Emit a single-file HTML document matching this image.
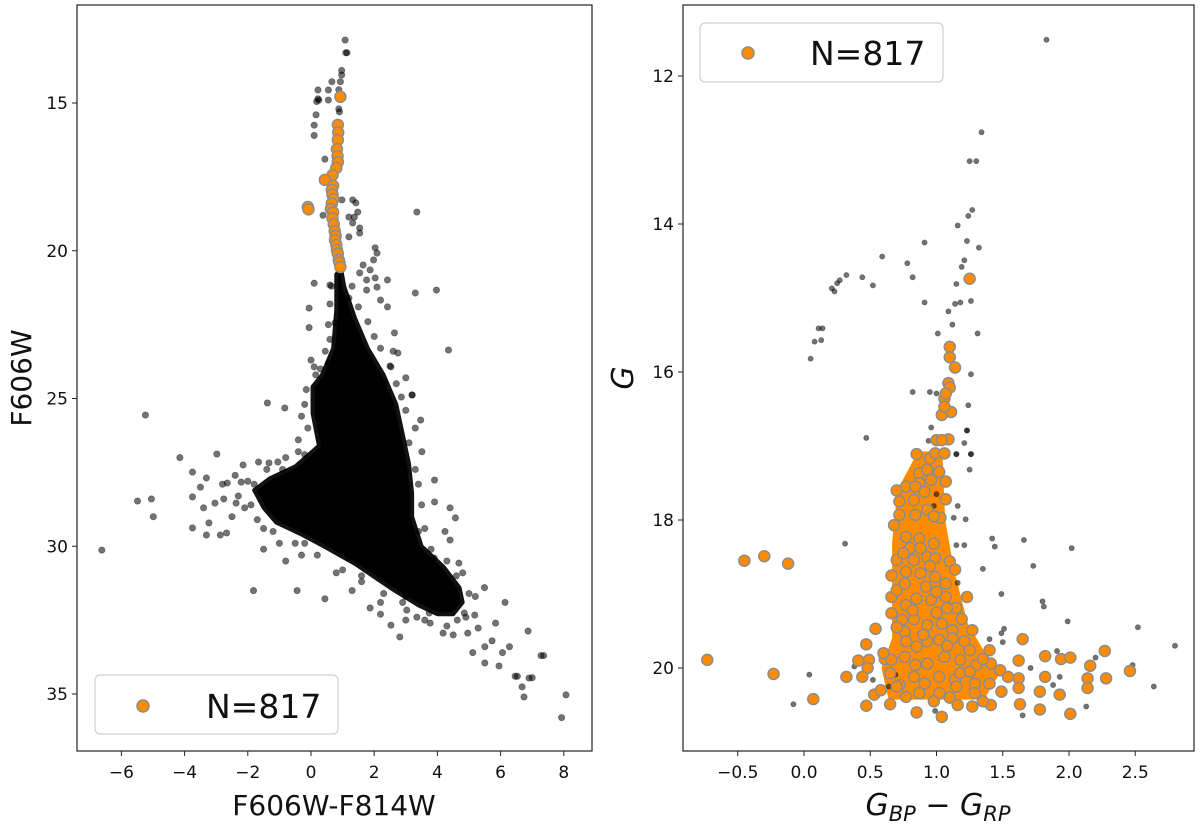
<!DOCTYPE html>
<html><head><meta charset="utf-8"><style>
html,body{margin:0;padding:0;background:#fff;}
svg{display:block;font-family:"DejaVu Sans","Liberation Sans",sans-serif;}
</style></head><body>
<svg id="fig" width="1200" height="828" viewBox="0 0 1200 828" xmlns="http://www.w3.org/2000/svg">
<g id="left"></g>
<g id="right"></g>
</svg>
<script>
const NS="http://www.w3.org/2000/svg";
// ---------- LEFT PANEL DATA ----------
const leftXTicks=[-6,-4,-2,0,2,4,6,8];
const leftYTicks=[15,20,25,30,35];
const leftDenseOutline=[[0.8,20.8],[0.8,22],[0.7,23.3],[0.35,24.2],[0.05,24.6],[0.05,25.5],[0.25,26.6],[-0.5,27.3],[-1.3,27.7],[-1.8,28.1],[-1.5,28.7],[-1.1,29.2],[-0.3,29.6],[0.4,30.0],[1.4,30.6],[2.5,31.4],[3.4,32.0],[4.0,32.3],[4.5,32.3],[4.8,31.9],[4.7,31.4],[4.2,30.7],[3.5,30.0],[3.2,29.0],[3.2,28.2],[3.1,27.2],[2.9,26.2],[2.7,25.2],[2.3,24.2],[1.8,23.3],[1.4,22.3],[1.05,21.2],[0.95,20.6]];
const leftBlack=[[1.08,12.87],[1.1,13.3],[1.14,13.3],[0.97,13.9],[0.97,14.05],[0.66,14.28],[0.93,14.28],[0.22,14.56],[0.55,14.56],[0.88,14.55],[0.22,14.86],[0.25,14.9],[0.18,14.95],[0.55,14.9],[0.88,15.2],[0.9,15.3],[0.16,15.4],[0.1,15.75],[0.1,16.1],[0.44,16.9],[0.38,18.8],
[0.98,18.28],[1.32,18.28],[1.42,18.38],[1.48,18.69],[1.37,18.86],[1.2,18.86],[1.32,19.06],[1.54,19.23],[1.54,19.4],[1.2,19.53],
[2.03,19.9],[2.09,20.08],[1.98,20.31],[1.65,20.48],[1.87,20.65],[1.54,20.75],[1.76,20.99],[2.03,20.92],[2.42,20.99],[2.09,21.23],[1.76,21.33],
[0.1,21.1],[0.6,21.16],[3.35,18.69],[3.3,21.43],[3.97,21.33],[4.35,23.36],[-0.06,21.94],[-0.06,22.6],
[2.2,21.67],[2.42,21.9],[2.64,22.78],[2.75,23.46],[2.53,23.93],[2.31,24.47],[2.86,24.95],[3.2,24.88],[0.76,22.44],[0.6,23.0],[0.55,23.8],[0,23.7],[0.1,23.93],
[-5.24,25.56],[-1.38,25.15],[-0.83,25.32],[3.47,25.73],[3.2,24.88],[3.51,26.8],[-4.15,27.0],[-2.98,26.88],
[-3.75,27.49],[-3.31,27.69],[-2.65,27.86],[-2.21,27.83],[-2.15,27.25],[-1.66,27.15],[-1.33,27.18],[-1.05,27.15],
[-5.49,28.47],[-5.05,28.4],[-4.99,29.0],[-3.75,28.33],[-3.75,29.38],[-3.31,29.62],[-3.23,29.21],[-3.04,28.54],[-2.76,28.4],[-2.87,29.62],[-2.67,29.55],[-2.37,28.54],
[-6.62,30.13],[-1.82,31.5],[-0.44,31.5],[0.44,31.78],[1.87,32.09],[2.53,32.67],[2.81,33.07],
[3.91,27.76],[3.91,28.5],[4.4,28.7],[4.57,29.04],[4.24,29.5],[4.4,29.79],
[4.68,30.57],[5.49,31.4],[6.14,31.9],[6.87,32.87],[7.36,33.7],
[4.96,32.94],[5.12,33.6],[5.5,33.95],[5.95,34.05],[6.53,34.4],[7.0,34.45],[5.73,33.2],[6.06,33.6],[6.28,33.4],[5.5,33.4],[5.84,32.6],[5.29,32.77],
[4.18,32.94],[3.77,32.6],[3.35,32.4],[3.03,32.16],[3.74,32.26],[4.63,32.5],[4.85,32.26],[5.18,32.33],
[8.07,35.03],[7.93,35.8],[6.46,34.4],[6.9,34.46],[6.68,34.76],[6.74,35.1],[7.28,33.7],
[-1.9,28.6],[-1.5,29.4],[-1.0,29.9],[-0.3,30.3],[0.8,30.9],[1.6,31.2],[2.2,31.9],[3.0,31.7],[-2.4,27.6],[-1.8,27.9],[-0.8,27.0],[-0.4,26.4],[3.4,27.9],[3.6,29.4],[3.9,30.4],[4.6,31.0],[5.2,31.7],[3.3,26.0],[3.0,24.3],[2.6,23.4],
[1.2,21.6],[1.5,21.9],[1.8,22.4],[2.0,22.9],[2.2,23.3],[2.5,23.9],[2.7,24.5],[3.0,25.4],[3.1,26.5],[3.3,27.4],[3.5,28.6],[3.4,29.5],[3.8,30.1],[4.3,30.5],[4.8,30.9],[5.0,31.6],[4.9,32.4],[4.3,32.7],[3.6,32.5],[2.9,31.9],[2.3,31.6],[1.6,31.0],[1.0,30.8],[0.2,30.3],[-0.5,29.9],[-1.2,29.5],[-1.7,29.1],[-2.1,28.7],[-2.3,28.3],[-2.0,27.8],[-1.4,27.4],[-0.9,27.4],[-0.2,26.9],[-0.1,26.0],[-0.2,25.2],[-0.15,24.7],[0.15,24.2],[0.45,23.4],[0.55,22.5],[0.6,21.8],[0.65,21.2],[1.3,21.2],[0.3,24.0],[-0.3,25.6],[-0.4,26.8],[-1.0,28.8],[-0.2,29.9],[1.2,30.4],[2.0,30.5],[2.7,30.8],[3.2,31.1],[3.8,31.4],[4.0,31.8],[4.5,33.0],[3.0,32.5],[2.2,32.3],[1.3,31.5],[-0.8,30.5],[-1.5,30.1],[-2.5,29.0],[-2.8,27.9],[-3.4,28.7],[-3.5,28.0]];
const leftOrange=[[0.93,14.79],[0.85,15.74],[0.86,16.0],[0.85,16.25],[0.82,16.56],[0.84,16.8],[0.85,17.0],[0.8,17.2],[0.68,17.44],[0.44,17.6],[0.7,17.8],[0.66,17.94],[0.68,18.1],[0.71,18.25],[0.66,18.4],[0.63,18.59],[0.7,18.7],[0.68,18.9],[0.72,19.1],[0.75,19.33],[0.78,19.5],[0.76,19.64],[0.8,19.8],[0.82,19.97],[0.85,20.1],[0.88,20.31],[0.9,20.4],[0.93,20.55],[-0.1,18.52],[-0.08,18.6]];

// ---------- RIGHT PANEL DATA ----------
const rightXTicks=[-0.5,0.0,0.5,1.0,1.5,2.0,2.5];
const rightYTicks=[12,14,16,18,20];
const rightCoreOutline=[[0.87,17.1],[0.72,17.6],[0.68,18.3],[0.68,19.6],[0.6,20.0],[0.65,20.4],[1.35,20.4],[1.45,20.1],[1.35,19.8],[1.22,19.4],[1.12,18.7],[1.05,18.0],[1.03,17.1]];
const rightBlack=[[1.83,11.51],[1.34,12.76],[1.25,13.15],[1.30,13.15],[1.27,13.81],[1.24,13.89],[1.16,14.02],[1.23,14.23],[1.32,14.32],[0.91,14.25],[0.59,14.44],[0.78,14.53],[1.21,14.49],[1.19,14.58],[0.32,14.69],[0.27,14.76],[0.25,14.8],[0.21,14.87],[0.23,14.91],[0.44,14.72],[0.52,14.83],[0.82,14.72],[1.15,14.81],[0.91,15.06],[1.14,15.08],[1.18,15.06],[1.26,15.04],[1.09,15.18],[1.12,15.36],[1.01,15.48],[1.31,15.48],[0.11,15.41],[0.14,15.41],[0.08,15.59],[0.13,15.57],[0.05,15.82],[1.26,16.03],[1.24,16.45],[1.23,16.79],[1.21,16.96],[1.26,17.11],[1.15,17.11],[0.82,16.27],[0.95,16.27],[1.0,16.29],[0.96,16.75],[0.94,16.93],[0.47,16.89],
[1.23,16.79],[1.15,17.11],[1.26,17.11],[1.25,17.32],[1.16,17.81],[1.13,17.97],[1.22,17.99],[1.0,17.65],[0.98,17.81],[0.31,18.32],[1.15,18.34],[1.21,18.34],[1.42,18.25],[1.44,18.36],[1.66,18.27],[2.02,18.38],[1.73,18.62],[1.35,18.66],[1.16,18.85],[1.49,19.0],[1.8,19.1],[1.81,19.17],[1.99,19.37],[2.52,19.45],[1.51,19.47],[1.49,19.53],[1.4,19.61],[1.5,19.65],[1.91,19.77],[2.2,19.86],[2.48,19.96],[2.8,19.7],[1.71,20.0],[1.93,20.12],[1.88,20.23],[2.64,20.25],[2.13,20.52],[1.65,20.64],[0.99,20.58],[0.52,20.16],[0.64,20.25],[0.69,20.09],[0.04,20.09],[-0.08,20.49],[0.38,19.98]];
const rightOrange=[[1.25,14.74],[1.1,15.66],[1.1,15.8],[1.14,15.94],[1.09,16.15],[1.1,16.21],[1.06,16.36],[1.04,16.58],[1.11,16.54],[1.06,16.47],[1.07,16.29],[1.0,16.92],[1.09,16.91],[1.04,16.92],[0.85,17.11],[0.95,17.17],[0.99,17.1],[1.06,17.1],
[0.87,17.37],[0.93,17.32],[1.02,17.35],[1.07,17.48],[0.96,17.46],[0.87,17.5],[0.7,17.6],[0.77,17.55],[0.84,17.55],[0.91,17.62],[0.83,17.73],[1.07,17.72],[1.03,17.97],[0.93,17.86],
[0.72,17.93],[0.84,17.93],[0.68,18.07],[0.77,18.23],[0.87,18.25],[0.98,18.32],[0.88,18.38],[0.8,18.38],[0.7,18.54],[0.83,18.54],[0.93,18.5],[0.99,18.52],[1.1,18.56],[1.14,18.67],
[0.66,18.75],[0.77,18.7],[0.88,18.72],[0.99,18.77],[0.76,18.86],[0.92,18.9],[1.07,18.86],[0.66,19.04],[0.77,19.15],[0.85,19.06],[0.96,19.08],[1.07,19.04],[1.23,19.04],[1.15,19.19],[1.08,19.19],
[0.66,19.26],[0.74,19.35],[0.83,19.34],[0.93,19.42],[1.04,19.4],[1.19,19.34],[1.12,19.49],[1.27,19.49],[0.54,19.47],[0.76,19.51],
[0.47,19.68],[0.77,19.64],[0.85,19.71],[0.93,19.64],[1.02,19.62],[1.12,19.6],[1.21,19.64],[1.25,19.76],[1.4,19.76],[1.65,19.61],
[0.41,19.9],[0.49,19.89],[0.48,20.0],[0.61,19.88],[0.66,19.89],[0.76,19.85],[0.84,19.96],[0.93,19.94],[1.06,19.85],[1.18,19.89],[1.3,19.96],[1.41,19.94],[1.48,20.03],[1.62,19.9],[1.82,19.84],[1.94,19.88],[2.01,19.86],[2.16,19.97],[2.27,19.77],[2.46,20.04],
[0.32,20.12],[0.44,20.12],[0.65,20.07],[0.72,20.23],[0.83,20.12],[0.91,20.21],[1.02,20.12],[1.14,20.16],[1.18,20.07],[1.29,20.21],[1.4,20.21],[1.54,20.12],[1.62,20.14],[1.82,20.12],[2.14,20.14],[2.28,20.14],
[0.53,20.36],[0.7,20.25],[0.77,20.39],[0.87,20.34],[1.02,20.34],[1.15,20.25],[1.29,20.34],[1.49,20.32],[1.62,20.27],[1.78,20.32],[1.93,20.36],[2.14,20.27],
[0.47,20.51],[0.65,20.49],[0.85,20.6],[1.04,20.66],[1.16,20.5],[1.27,20.52],[1.41,20.5],[1.63,20.49],[1.78,20.56],[2.01,20.62],[0.07,20.42],[-0.23,20.08],[-0.73,19.89],[-0.45,18.55],[-0.3,18.49],[-0.12,18.59],
[0.72,17.75],[0.98,17.95],[0.75,18.45],[0.95,18.62],[0.7,18.95],[1.0,18.97],[0.82,19.22],[1.0,19.25],[0.7,19.45],[0.9,19.55],[1.08,19.7],[0.6,19.8],[1.35,19.88],[1.25,20.05],[0.98,20.45],[1.1,20.4],[0.58,20.3],[1.35,20.45]];

function el(tag,attrs,parent){const e=document.createElementNS(NS,tag);for(const k in attrs)e.setAttribute(k,attrs[k]);parent.appendChild(e);return e;}

function drawPanel(g,cfg){
  const sx=v=>cfg.x0+(v-cfg.xv0)*cfg.xs;
  const sy=v=>cfg.y0+(v-cfg.yv0)*cfg.ys;
  if(cfg.dense){
    const p=el('polygon',{points:cfg.dense.map(d=>sx(d[0])+','+sy(d[1])).join(' '),fill:'#000',stroke:'#111','stroke-width':4,'stroke-linejoin':'round'},g);
    
    
  }
  if(cfg.core){
    const p=el('polygon',{points:cfg.core.map(d=>sx(d[0])+','+sy(d[1])).join(' '),fill:'#ff8c00',stroke:'#ff8c00','stroke-width':4,'stroke-linejoin':'round'},g);
    
    
  }
  for(const d of cfg.black){
    const c=el('circle',{cx:sx(d[0]),cy:sy(d[1]),r:cfg.br,fill:'#000','fill-opacity':0.55,stroke:'#000','stroke-opacity':0.35,'stroke-width':0.8},g);
    
    
  }
  for(const d of cfg.orange){
    const c=el('circle',{cx:sx(d[0]),cy:sy(d[1]),r:cfg.or,fill:'#ff8c00',stroke:'#8c8c8c','stroke-width':1.5},g);
    
    
  }
  const f=el('rect',{x:cfg.L,y:cfg.T,width:cfg.R-cfg.L,height:cfg.B-cfg.T,fill:'none',stroke:'#222','stroke-width':1.2},g);
  
  
  for(const t of cfg.xt){
    const x=sx(t);
    const tk=el('line',{x1:x,x2:x,y1:cfg.B,y2:cfg.B+5,stroke:'#222','stroke-width':1},g);
    
    
    const tx=el('text',{x:x,y:cfg.B+27,'text-anchor':'middle','font-size':17,fill:'#111'},g);
    tx.textContent=(cfg.xfmt?cfg.xfmt(t):String(t)).replace('-','\u2212');
    
    
  }
  for(const t of cfg.yt){
    const y=sy(t);
    const tk=el('line',{x1:cfg.L-5,x2:cfg.L,y1:y,y2:y,stroke:'#222','stroke-width':1},g);
    
    
    const tx=el('text',{x:cfg.L-9,y:y+6,'text-anchor':'end','font-size':17,fill:'#111'},g);
    tx.textContent=String(t);
    
    
  }
}

drawPanel(document.getElementById('left'),{L:77,R:592,T:5,B:751,x0:311,xv0:0,xs:31.6,y0:103,yv0:15,ys:29.55,
  dense:leftDenseOutline,black:leftBlack,orange:leftOrange,br:3.2,or:5.5,xt:leftXTicks,yt:leftYTicks});
drawPanel(document.getElementById('right'),{L:683,R:1194,T:5,B:751,x0:804,xv0:0,xs:132.5,y0:76,yv0:12,ys:74,
  core:rightCoreOutline,black:rightBlack,orange:rightOrange,br:2.6,or:5.5,xt:rightXTicks,yt:rightYTicks,xfmt:v=>v.toFixed(1)});
</script>
<svg width="1200" height="828" style="position:absolute;left:0;top:0" xmlns="http://www.w3.org/2000/svg">
<g font-family="DejaVu Sans, Liberation Sans, sans-serif" fill="#111">
<text x="334" y="815" text-anchor="middle" font-size="28">F606W-F814W</text>
<text transform="translate(31,378) rotate(-90)" text-anchor="middle" font-size="28">F606W</text>
<text x="938" y="815" text-anchor="middle" font-size="30" font-style="italic">G<tspan font-size="21" dy="6">BP</tspan><tspan dy="-6" font-style="normal"> − </tspan>G<tspan font-size="21" dy="6">RP</tspan></text>
<text transform="translate(633,378) rotate(-90)" text-anchor="middle" font-size="30" font-style="italic">G</text>
</g>
<g>
<rect x="95" y="675" width="243" height="59" rx="5" fill="#fff" fill-opacity="0.85" stroke="#d0d0d0" stroke-width="1.2"/>
<circle cx="143" cy="706" r="6" fill="#ff8c00" stroke="#8c8c8c" stroke-width="1.5"/>
<text x="206" y="718" font-size="33" font-family="DejaVu Sans, Liberation Sans, sans-serif" fill="#111">N=817</text>
</g>
<g>
<rect x="700" y="23" width="243" height="59" rx="5" fill="#fff" fill-opacity="0.85" stroke="#d0d0d0" stroke-width="1.2"/>
<circle cx="748" cy="53" r="6" fill="#ff8c00" stroke="#8c8c8c" stroke-width="1.5"/>
<text x="810" y="65" font-size="33" font-family="DejaVu Sans, Liberation Sans, sans-serif" fill="#111">N=817</text>
</g>
</svg>
</body></html>
